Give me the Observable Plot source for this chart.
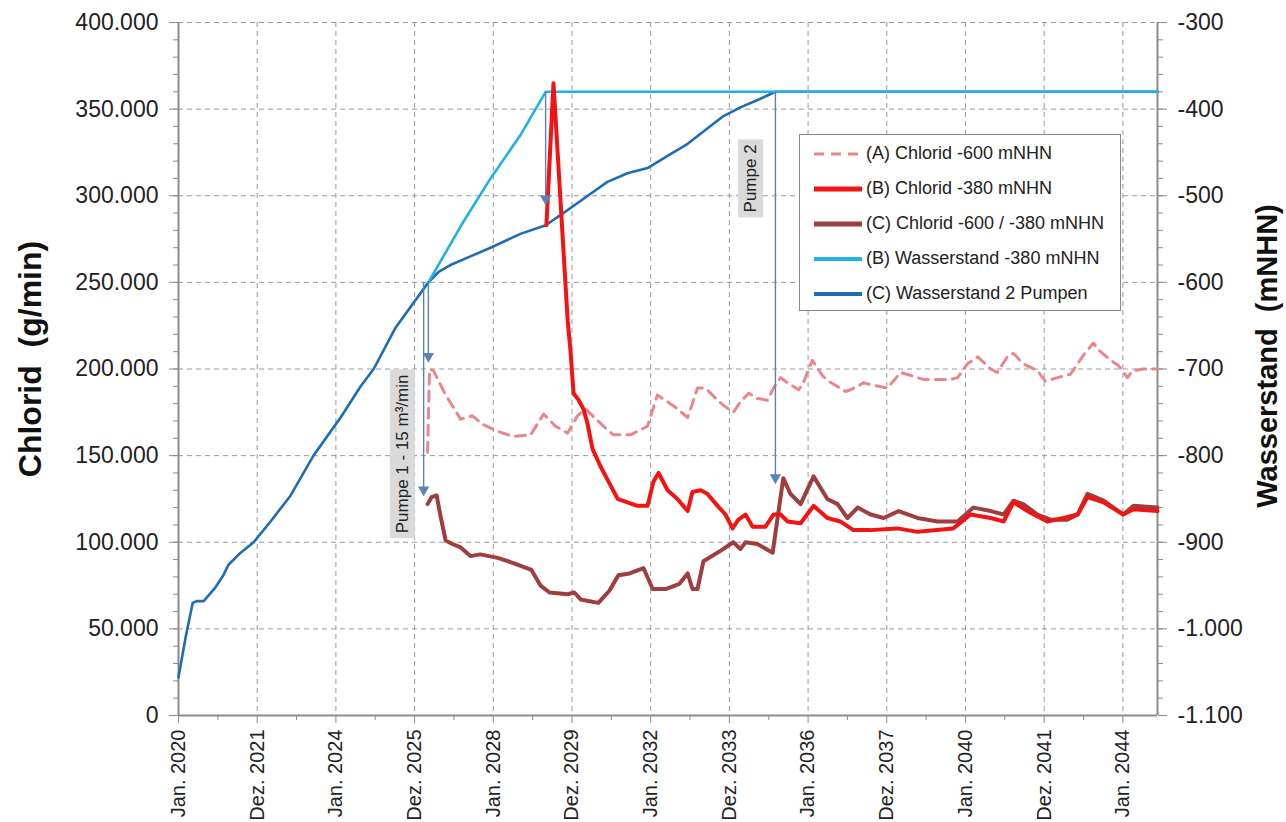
<!DOCTYPE html>
<html>
<head>
<meta charset="utf-8">
<script src="https://cdn.jsdelivr.net/npm/d3@7"></script>
<script src="https://cdn.jsdelivr.net/npm/@observablehq/plot@0.6"></script>
<style>
  html, body { margin: 0; padding: 0; background: #fff; }
  #wrap { position: relative; width: 1286px; height: 822px; font-family: "Liberation Sans", Arial, sans-serif; }
  #legend { position: absolute; left: 799px; top: 134px; width: 322px; height: 177px; box-sizing: border-box;
            border: 1.3px solid #8a8a8a; background: #fff; padding-top: 1px; }
  .item { display: flex; align-items: center; height: 35px; font-size: 18px; color: #222; }
  .item svg { margin-left: 14px; margin-right: 4px; }
</style>
</head>
<body>
<div id="wrap">
  <div id="chart"></div>
  <div id="legend"></div>
</div>
<script>
// ---- axes ----
const leftDomain = [0, 400];          // Chlorid, thousand g/min (axis shows 400.000)
const rightDomain = [-1100, -300];    // Wasserstand, mNHN
const xStart = 2020, xEnd = 2044.88;  // decimal years
const xTickYears = [2020, 2022, 2024, 2026, 2028, 2030, 2032, 2034, 2036, 2038, 2040, 2042, 2044];
const xTickLabels = ["Jan. 2020", "Dez. 2021", "Jan. 2024", "Dez. 2025", "Jan. 2028", "Dez. 2029", "Jan. 2032",
                     "Dez. 2033", "Jan. 2036", "Dez. 2037", "Jan. 2040", "Dez. 2041", "Jan. 2044"];
const xMinorYears = [2021, 2023, 2025, 2027, 2029, 2031, 2033, 2035, 2037, 2039, 2041, 2043];
const yMajor = [0, 50, 100, 150, 200, 250, 300, 350, 400];
const yMinor = d3.range(0, 401, 10);

// ---- series: [decimal year, value] ----
// (A) Chlorid -600 mNHN (thousand g/min)
const chloridA = [[2026.33,152],[2026.38,200],[2026.48,199],[2026.79,185],[2027.17,171],[2027.47,173],[2027.73,168],
  [2028.11,164],[2028.51,161],[2028.95,162],[2029.28,174],[2029.58,167],[2029.89,163],[2030.14,173],[2030.34,177],
  [2030.80,167],[2031.05,162],[2031.49,162],[2031.92,167],[2032.17,185],[2032.43,181],[2032.68,177],[2032.94,172],
  [2033.19,189],[2033.39,189],[2033.70,182],[2033.85,179],[2034.10,175],[2034.28,181],[2034.49,186],[2034.71,183],
  [2034.97,182],[2035.12,189],[2035.30,195],[2035.48,192],[2035.76,188],[2035.86,191],[2036.11,205],[2036.37,196],
  [2036.52,193],[2036.95,187],[2037.08,188],[2037.41,192],[2037.59,191],[2038.02,189],[2038.35,198],[2038.93,194],
  [2039.62,194],[2039.80,195],[2040.05,203],[2040.31,207],[2040.64,200],[2040.81,198],[2041.09,208],[2041.22,209],
  [2041.47,203],[2041.83,199],[2042.03,193],[2042.34,195],[2042.67,197],[2043.00,208],[2043.25,215],[2043.38,211],
  [2043.69,205],[2043.89,202],[2044.12,195],[2044.24,199],[2044.52,200],[2044.88,200]];
// (B) Chlorid -380 mNHN
const chloridB = [[2029.35,283],[2029.53,365],[2029.89,228],[2029.96,211],[2030.04,186],[2030.17,182],[2030.29,177],
  [2030.39,169],[2030.52,154],[2030.72,144],[2030.93,135],[2031.16,125],[2031.41,123],[2031.66,121],[2031.92,121],
  [2032.07,135],[2032.20,140],[2032.43,130],[2032.68,125],[2032.94,118],[2033.06,129],[2033.27,130],[2033.44,128],
  [2033.70,121],[2033.90,116],[2034.08,108],[2034.23,113],[2034.41,116],[2034.59,109],[2034.92,109],[2035.12,116],
  [2035.30,116],[2035.48,112],[2035.81,111],[2036.14,121],[2036.49,114],[2036.82,112],[2037.15,107],[2037.59,107],
  [2038.27,108],[2038.78,106],[2039.69,108],[2040.13,116],[2040.64,114],[2040.97,112],[2041.22,123],[2041.65,117],
  [2042.08,112],[2042.49,114],[2042.85,116],[2043.10,126],[2043.51,123],[2044.01,116],[2044.27,119],[2044.88,118]];
// (C) Chlorid -600 / -380 mNHN
const chloridC = [[2026.33,122],[2026.43,126],[2026.56,127],[2026.66,115],[2026.79,101],[2026.96,99],[2027.17,97],
  [2027.42,92],[2027.67,93],[2028.11,91],[2028.51,88],[2028.97,84],[2029.20,75],[2029.43,71],[2029.89,70],[2030.06,71],
  [2030.22,67],[2030.67,65],[2030.95,72],[2031.18,81],[2031.46,82],[2031.82,85],[2032.05,73],[2032.38,73],[2032.73,76],
  [2032.94,82],[2033.06,73],[2033.19,73],[2033.34,89],[2033.77,95],[2034.10,100],[2034.28,96],[2034.41,100],[2034.71,99],
  [2035.10,94],[2035.25,118],[2035.37,137],[2035.55,128],[2035.81,122],[2036.14,138],[2036.49,125],[2036.75,122],
  [2037.00,114],[2037.26,120],[2037.59,116],[2037.92,114],[2038.30,118],[2038.78,114],[2039.29,112],[2039.80,112],
  [2040.20,120],[2040.64,118],[2040.97,116],[2041.22,124],[2041.47,122],[2041.83,116],[2042.16,113],[2042.59,113],
  [2042.85,116],[2043.10,128],[2043.51,124],[2044.01,116],[2044.27,121],[2044.88,120]];
// (B) Wasserstand -380 mNHN (mNHN)
const wasserB = [[2026.35,-600],[2027.24,-530],[2027.93,-480],[2028.69,-430],[2029.33,-380],[2044.88,-380]];
// (C) Wasserstand 2 Pumpen (mNHN)
const wasserC = [[2020.00,-1056],[2020.18,-1010],[2020.36,-970],[2020.46,-968],[2020.64,-968],[2020.94,-952],
  [2021.14,-938],[2021.27,-926],[2021.58,-912],[2021.91,-900],[2022.34,-876],[2022.85,-846],[2023.43,-800],
  [2024.12,-756],[2024.63,-720],[2024.96,-700],[2025.52,-652],[2026.35,-600],[2026.61,-588],[2026.91,-580],
  [2027.42,-570],[2027.93,-560],[2028.69,-544],[2029.33,-534],[2029.78,-520],[2030.34,-502],[2030.90,-484],
  [2031.41,-474],[2031.92,-468],[2032.43,-454],[2032.94,-440],[2033.39,-424],[2033.85,-408],[2034.28,-398],
  [2034.79,-388],[2035.17,-380],[2044.88,-380]];

// ---- annotations ----
const pumpArrows = [ // year, start (Wasserstand mNHN), end (Chlorid thousand g/min)
  {year: 2026.35, fromW: -600, to: 205},
  {year: 2026.23, fromW: -600, to: 128},
  {year: 2029.33, fromW: -380, to: 296},
  {year: 2035.17, fromW: -380, to: 135}
];
const pumpLabels = [
  {year: 2025.69, v: 151, label: "Pumpe 1 - 15 m³/min"},
  {year: 2034.54, v: 310, label: "Pumpe 2"}
];

// ---- legend ----
const legendNames = ["(A) Chlorid -600 mNHN", "(B) Chlorid -380 mNHN", "(C) Chlorid -600 / -380 mNHN",
                     "(B) Wasserstand -380 mNHN", "(C) Wasserstand 2 Pumpen"];
const colors = {A: "#e8868c", B: "#f21313", C: "#9e3e3e", WB: "#22b1e3", WC: "#1f6cb2"};

// ---- helpers ----
const toLeft = w => leftDomain[0] + (w - rightDomain[0]) / (rightDomain[1] - rightDomain[0]) * (leftDomain[1] - leftDomain[0]);
const toRight = v => rightDomain[0] + (v - leftDomain[0]) / (leftDomain[1] - leftDomain[0]) * (rightDomain[1] - rightDomain[0]);
const de = d3.formatLocale({decimal: ",", thousands: ".", grouping: [3], currency: ["", " €"], minus: "-"});
const fmtInt = de.format(",d");
const labelByYear = new Map(xTickYears.map((y, i) => [y, xTickLabels[i]]));
const rows = arr => arr.map(([year, value]) => ({year, value}));

const axisColor = "#8c8c8c";
const gridStyle = {stroke: "#9a9a9a", strokeOpacity: 1, strokeDasharray: "5,4", strokeWidth: 1};

const chart = Plot.plot({
  width: 1286, height: 822,
  marginLeft: 178, marginRight: 129, marginTop: 22, marginBottom: 107,
  style: {fontFamily: "'Liberation Sans', Arial, sans-serif", background: "#fff", color: "#222", overflow: "visible"},
  x: {type: "linear", domain: [xStart, xEnd]},
  y: {domain: leftDomain},
  marks: [
    Plot.gridX({ticks: xTickYears.slice(1), ...gridStyle}),
    Plot.gridY({ticks: yMajor.slice(1), ...gridStyle}),
    Plot.ruleX([xStart, xEnd], {stroke: axisColor, strokeWidth: 2}),
    Plot.ruleY([0], {stroke: axisColor, strokeWidth: 2}),
    Plot.axisY({anchor: "left", ticks: yMinor, tickSize: 5, tickFormat: () => "", label: null, stroke: axisColor}),
    Plot.axisY({anchor: "left", ticks: yMajor, tickSize: 9, tickPadding: 11, tickFormat: v => fmtInt(v * 1000),
                fontSize: 23, label: null, stroke: axisColor}),
    Plot.axisY({anchor: "right", ticks: yMinor, tickSize: 5, tickFormat: () => "", label: null, stroke: axisColor}),
    Plot.axisY({anchor: "right", ticks: yMajor, tickSize: 9, tickPadding: 11, tickFormat: v => fmtInt(toRight(v)),
                fontSize: 23, label: null, stroke: axisColor}),
    Plot.axisX({anchor: "bottom", ticks: xMinorYears, tickSize: 5, tickFormat: () => "", label: null, stroke: axisColor}),
    Plot.axisX({anchor: "bottom", ticks: xTickYears, tickSize: 8, tickPadding: 6, tickRotate: -90,
                tickFormat: d => labelByYear.get(d), fontSize: 20, label: null, stroke: axisColor}),
    Plot.text(["Chlorid  (g/min)"], {frameAnchor: "left", dx: -148, dy: -10, rotate: -90, fontSize: 32,
                fontWeight: "bold", fill: "#111", textAnchor: "middle", text: d => d}),
    Plot.text(["Wasserstand  (mNHN)"], {frameAnchor: "right", dx: 110, dy: -13, rotate: -90, fontSize: 29,
                fontWeight: "bold", fill: "#111", textAnchor: "middle", text: d => d}),
    Plot.line(rows(wasserC), {x: "year", y: d => toLeft(d.value), stroke: colors.WC, strokeWidth: 2.6}),
    Plot.line(rows(wasserB), {x: "year", y: d => toLeft(d.value), stroke: colors.WB, strokeWidth: 2.6}),
    Plot.line(rows(chloridA), {x: "year", y: "value", stroke: colors.A, strokeWidth: 3, strokeDasharray: "10,7"}),
    Plot.line(rows(chloridC), {x: "year", y: "value", stroke: colors.C, strokeWidth: 4}),
    Plot.line(rows(chloridB), {x: "year", y: "value", stroke: colors.B, strokeWidth: 4}),
    Plot.ruleX(pumpArrows, {x: "year", y1: d => toLeft(d.fromW), y2: d => d.to + 3, stroke: "#5a82b4", strokeWidth: 1.4}),
    Plot.dot(pumpArrows, {x: "year", y: "to", symbol: "triangle", rotate: 180, r: 4.2, fill: "#5a82b4", stroke: "none", dy: -4}),
    Plot.text(pumpLabels, {x: "year", y: "v", text: "label", rotate: -90, fontSize: 17, fill: "#222"})
  ]
});

document.getElementById("chart").appendChild(chart);

// gray background boxes behind the pump labels (measured from the rendered text)
const svgBox = chart.getBoundingClientRect();
const labelSet = new Set(pumpLabels.map(p => p.label));
Array.from(chart.querySelectorAll("text")).filter(t => labelSet.has(t.textContent)).forEach(t => {
  const r = t.getBoundingClientRect();
  let top = t;
  while (top.parentNode && top.parentNode !== chart) top = top.parentNode;
  const rect = document.createElementNS("http://www.w3.org/2000/svg", "rect");
  rect.setAttribute("x", r.left - svgBox.left - 3);
  rect.setAttribute("y", r.top - svgBox.top - 5);
  rect.setAttribute("width", r.width + 6);
  rect.setAttribute("height", r.height + 10);
  rect.setAttribute("fill", "#dadada");
  chart.insertBefore(rect, top);
});

// legend
const legendStyles = [
  {stroke: colors.A, width: 3, dash: "10,7"},
  {stroke: colors.B, width: 5, dash: null},
  {stroke: colors.C, width: 5, dash: null},
  {stroke: colors.WB, width: 4, dash: null},
  {stroke: colors.WC, width: 4, dash: null}
];
const legend = d3.select("#legend");
legendNames.forEach((name, i) => {
  const s = legendStyles[i];
  const item = legend.append("div").attr("class", "item");
  const sv = item.append("svg").attr("width", 48).attr("height", 10);
  sv.append("line").attr("x1", 0).attr("x2", 48).attr("y1", 5).attr("y2", 5)
    .attr("stroke", s.stroke).attr("stroke-width", s.width).attr("stroke-dasharray", s.dash);
  item.append("span").text(name);
});
</script>
</body>
</html>
